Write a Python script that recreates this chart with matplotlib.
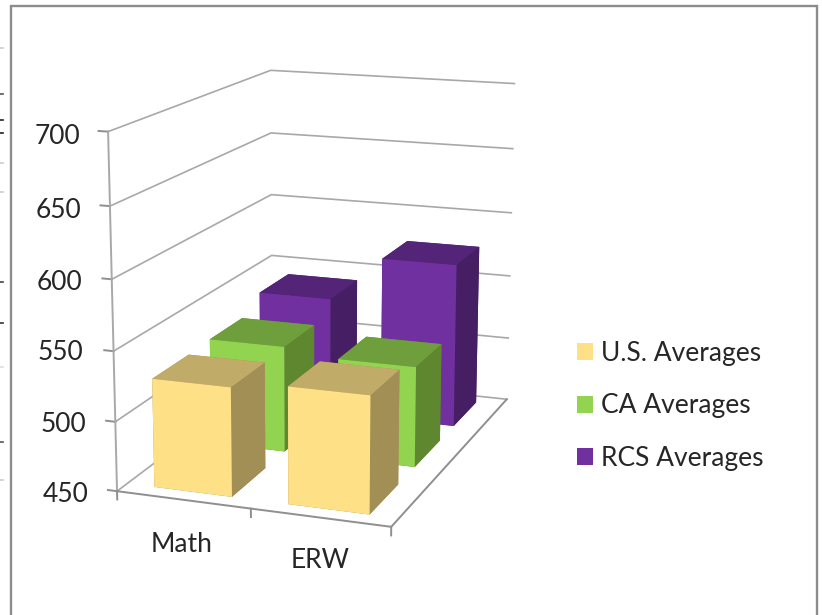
"""3D column chart of average scores by section."""
import matplotlib

matplotlib.use("Agg")
import matplotlib.pyplot as plt
from matplotlib.lines import Line2D
from matplotlib.patches import Patch, Rectangle

plt.rcParams["font.family"] = ["Lato", "DejaVu Sans"]

categories = ["Math", "ERW"]
series_names = ["U.S. Averages", "CA Averages", "RCS Averages"]
us_avg = [528, 533]
ca_avg = [529, 524]
rcs_avg = [540, 575]
z_ticks = [450, 500, 550, 600, 650, 700]

W, H = 822, 615
GRID = "#a8a8a8"
AXIS = "#8f8f8f"
TEXT = "#262626"
FONT = 19
# front, top and side shade of each series
SHADES = [("#fee087", "#c1ab68", "#a28f56"),
          ("#92d350", "#6f9e3c", "#5e8730"),
          ("#7030a0", "#542478", "#451e63")]
# label anchors in image pixels: the axis leans, so they shift with it
Z_LABEL_PX = [(89, 494), (86, 425), (83, 353), (82, 283), (81, 211), (80, 136)]
CAT_LABEL_PX = [(182, 544), (320, 561)]
# cropped glyph remains along the image's left edge
EDGE_MARKS = [(94, "#555555"), (120, "#222222"), (133, "#222222"), (282, "#444444"),
              (323, "#333333"), (442, "#555555"), (48, "#cccccc"), (163, "#cccccc"),
              (192, "#cccccc"), (367, "#dddddd"), (480, "#cccccc")]


def px_text(x, y, s, **kw):
    fig.text(x / W, 1 - y / H, s, color=TEXT, fontsize=FONT, va="center", **kw)


fig = plt.figure(figsize=(W / 100, H / 100), dpi=100)
S = 584
ax = fig.add_axes([0, 0, S / W, S / H], projection="3d", computed_zorder=False)
ax.set_xlim(0, 2, view_margin=0)
ax.set_ylim(0, 3, view_margin=0)
ax.set_zlim(450, 700, view_margin=0)
ax.view_init(14.122, -70.268, -0.083)
ax.set_proj_type("persp", focal_length=0.647)
ax.set_box_aspect((0.791, 1.178, 1))
ax.set_axis_off()

# place the square axes so the view origin lands where the camera fit put it
ax.apply_aspect()
ox, oy = ax.transData.transform((0, 0))
ax.set_position([(325.37 - ox) / W, (H - 277.47 - oy) / H, S / W, S / H])

# walls and floor
for z, pos in zip(z_ticks, Z_LABEL_PX):
    ax.plot([0, 0, 2], [0, 3, 3], [z, z, z], color=GRID, lw=1.2, zorder=1)
    ax.plot([-0.07, 0], [0, 0], [z, z], color=AXIS, lw=1.4, zorder=1)
    px_text(pos[0], pos[1], str(z), ha="right")
ax.plot([0, 0], [0, 0], [450, 700], color=GRID, lw=1.4, zorder=1)
ax.plot([0, 2, 2], [0, 0, 3], [450, 450, 450], color=AXIS, lw=1.4, zorder=1)
for x in range(3):
    ax.plot([x, x], [0, 0], [450, 444], color=AXIS, lw=1.4, zorder=1)
for name, pos in zip(categories, CAT_LABEL_PX):
    px_text(pos[0], pos[1], name, ha="center")

# columns, painted from the back row forwards
rows = [us_avg, ca_avg, rcs_avg]
row_start = [0.168, 0.195, 0.2]
order = 2
for j in (2, 1, 0):
    front, top, side = SHADES[j]
    for i, value in enumerate(rows[j]):
        # bar3d faces: bottom, top, front, back, left, right
        ax.bar3d(i + 0.208, j + row_start[j], 450, 0.585, 0.635, value - 450,
                 color=[side, top, front, side, side, side],
                 shade=False, zorder=order)
        order += 1

handles = [Patch(facecolor=s[0], edgecolor="none") for s in SHADES]
fig.legend(handles, series_names, loc="center left",
           bbox_to_anchor=(577 / W, 1 - 406 / H), frameon=False, fontsize=FONT,
           labelcolor=TEXT, handlelength=0.6, handleheight=0.6,
           handletextpad=0.3, labelspacing=1.045, borderpad=0, borderaxespad=0)

# outer chart frame, open below the image edge
fig.add_artist(Rectangle((11 / W, -0.1), (817 - 11) / W, 0.1 + 1 - 5.5 / H, fill=False,
                         edgecolor="#8c8c8c", lw=1.7, transform=fig.transFigure))
for y, col in EDGE_MARKS:
    fig.add_artist(Line2D([0, 2.5 / W], [1 - y / H] * 2, color=col, lw=1.2,
                          transform=fig.transFigure))

fig.savefig("out.png", dpi=100)
